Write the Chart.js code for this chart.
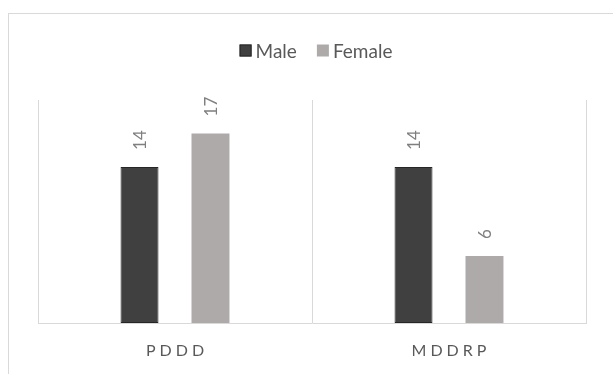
<!DOCTYPE html>
<html>
<head>
<meta charset="utf-8">
<script src="https://cdn.jsdelivr.net/npm/chart.js@4/dist/chart.umd.min.js"></script>
<style>
  html, body { margin: 0; padding: 0; background: #ffffff; }
  #wrap { position: relative; width: 613px; height: 374px; overflow: hidden; }
  canvas { display: block; }
</style>
</head>
<body>
<div id="wrap"><canvas id="c" width="613" height="374"></canvas></div>
<script>
const categories = ["PDDD", "MDDRP"];
const seriesNames = ["Male", "Female"];
const maleValues = [14, 14];
const femaleValues = [17, 6];
const yMin = 0;
const yMax = 20;

const FONT = "Lato, 'Open Sans', sans-serif";

const frame = {
  id: 'frame',
  beforeDraw(chart) {
    const ctx = chart.ctx;
    ctx.save();
    ctx.fillStyle = '#ffffff';
    ctx.fillRect(0, 0, chart.width, chart.height);
    ctx.strokeStyle = '#d9d9d9';
    ctx.lineWidth = 1;
    ctx.strokeRect(8.5, 13.5, 700, 500);
    ctx.restore();
  }
};

const customLegend = {
  id: 'customLegend',
  afterDraw(chart) {
    const ctx = chart.ctx;
    ctx.save();
    ctx.font = "19px " + FONT;
    ctx.textBaseline = 'middle';
    const box = 12, gapBox = 4, gapItem = 20;
    const items = chart.data.datasets.map(d => ({ label: d.label, fill: d.backgroundColor, stroke: d.borderWidth ? d.borderColor : null }));
    let total = 0;
    items.forEach((it, i) => {
      it.w = box + gapBox + ctx.measureText(it.label).width;
      total += it.w + (i > 0 ? gapItem : 0);
    });
    let x = 316 - total / 2;
    const y = 50.5;
    items.forEach((it) => {
      ctx.fillStyle = it.fill;
      ctx.fillRect(x, y - box / 2, box, box);
      if (it.stroke) {
        ctx.strokeStyle = it.stroke;
        ctx.lineWidth = 1;
        ctx.strokeRect(x + 0.5, y - box / 2 + 0.5, box - 1, box - 1);
      }
      ctx.fillStyle = '#595959';
      ctx.textAlign = 'left';
      ctx.fillText(it.label, x + box + gapBox, y + 1);
      x += it.w + gapItem;
    });
    ctx.restore();
  }
};

const valueLabels = {
  id: 'valueLabels',
  afterDatasetsDraw(chart) {
    const ctx = chart.ctx;
    ctx.save();
    ctx.font = "17px " + FONT;
    ctx.fillStyle = '#7f7f7f';
    ctx.textAlign = 'left';
    ctx.textBaseline = 'middle';
    chart.data.datasets.forEach((ds, di) => {
      const meta = chart.getDatasetMeta(di);
      meta.data.forEach((bar, i) => {
        ctx.save();
        ctx.translate(bar.x + 1, bar.y - 17);
        ctx.rotate(-Math.PI / 2);
        ctx.fillText(String(ds.data[i]), 0, 0);
        ctx.restore();
      });
    });
    ctx.restore();
  }
};

const catLabels = {
  id: 'catLabels',
  afterDraw(chart) {
    const ctx = chart.ctx;
    const xs = chart.scales.x;
    ctx.save();
    ctx.font = "16px " + FONT;
    ctx.fillStyle = '#595959';
    ctx.textAlign = 'center';
    ctx.textBaseline = 'middle';
    if ('letterSpacing' in ctx) ctx.letterSpacing = '4px';
    chart.data.labels.forEach((lab, i) => {
      const px = xs.getPixelForValue(i);
      ctx.fillText(lab, px + 2, 351);
    });
    ctx.restore();
  }
};

new Chart(document.getElementById('c'), {
  type: 'bar',
  data: {
    labels: categories,
    datasets: [
      { label: seriesNames[0], data: maleValues, backgroundColor: '#404040', borderColor: '#262626', borderWidth: 1, borderSkipped: false },
      { label: seriesNames[1], data: femaleValues, backgroundColor: '#aeaaaa', borderWidth: 0 }
    ]
  },
  options: {
    responsive: false,
    animation: false,
    devicePixelRatio: 1,
    barPercentage: 0.535,
    categoryPercentage: 0.518,
    layout: { padding: { left: 38, right: 27, top: 100, bottom: 51 } },
    plugins: { legend: { display: false }, tooltip: { enabled: false } },
    scales: {
      x: {
        offset: true,
        grid: { display: true, offset: true, color: '#d9d9d9', lineWidth: 1, drawTicks: false },
        border: { display: true, color: '#d9d9d9', width: 1 },
        ticks: { display: false }
      },
      y: {
        display: false,
        min: yMin,
        max: yMax
      }
    }
  },
  plugins: [frame, valueLabels, customLegend, catLabels]
});
</script>
</body>
</html>
